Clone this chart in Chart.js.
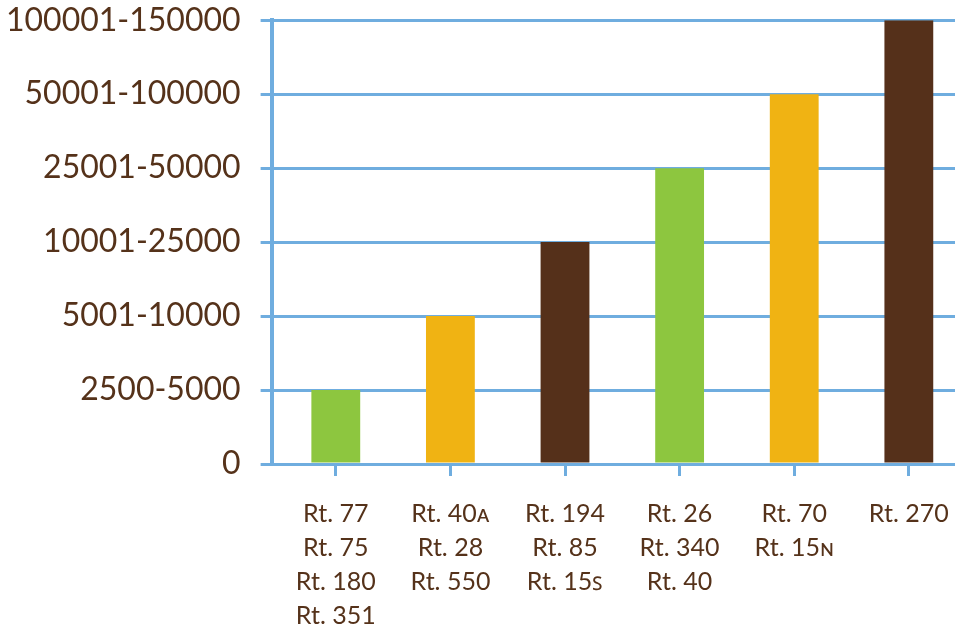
<!DOCTYPE html>
<html lang="en">
<head>
  <meta charset="UTF-8">
  <title>Traffic by route</title>
  <script src="https://cdn.jsdelivr.net/npm/chart.js"></script>
  <style>
    html, body {
      margin: 0;
      padding: 0;
      background: #fff;
      overflow: hidden;
    }

    /* pulled up/left to drop the extra edge padding Chart.js adds */
    .chart-box {
      position: relative;
      left: -19px;
      top: -19px;
      width: 989px;
      height: 673px;
    }
  </style>
</head>
<body>
  <div class="chart-box">
    <canvas id="trafficChart"></canvas>
  </div>

  <script>
    // Route groups along the x axis (one entry per bar, one line per route)
    const routeGroups = [
      ['Rt. 77', 'Rt. 75', 'Rt. 180', 'Rt. 351'],
      ['Rt. 40ᴀ', 'Rt. 28', 'Rt. 550'],
      ['Rt. 194', 'Rt. 85', 'Rt. 15ꜱ'],
      ['Rt. 26', 'Rt. 340', 'Rt. 40'],
      ['Rt. 70', 'Rt. 15ɴ'],
      ['Rt. 270']
    ];

    // Traffic band reached by each group (index into bandLabels)
    const bandLevels = [1, 2, 3, 4, 5, 6];

    // Y axis tick labels, bottom to top
    const bandLabels = ['0', '2500-5000', '5001-10000', '10001-25000', '25001-50000', '50001-100000', '100001-150000'];

    const barColors = ['#8DC63F', '#F0B313', '#55301A', '#8DC63F', '#F0B313', '#55301A'];

    const blue = '#6FADDF';
    const textColor = '#55321A';

    const ctx = document.getElementById('trafficChart').getContext('2d');
    new Chart(ctx, {
      type: 'bar',
      data: {
        datasets: [{
          data: bandLevels.map((v, i) => ({ x: i, y: v })),
          backgroundColor: barColors,
          borderWidth: 0,
          barPercentage: 0.426,
          categoryPercentage: 1
        }]
      },
      options: {
        responsive: true,
        maintainAspectRatio: false,
        animation: false,
        layout: { padding: { left: 5, right: 2, top: 1, bottom: 0 } },
        plugins: {
          legend: { display: false },
          tooltip: { enabled: false }
        },
        scales: {
          x: {
            type: 'linear',
            offset: false,
            min: -0.56,
            max: 5.5,
            // one tick per route group, at the bar centres
            afterBuildTicks: scale => {
              scale.ticks = routeGroups.map((g, i) => ({ value: i }));
            },
            grid: {
              offset: false,
              drawOnChartArea: false,
              color: blue,
              lineWidth: 3,
              tickLength: 12
            },
            border: { color: blue, width: 3 },
            ticks: {
              autoSkip: false,
              maxRotation: 0,
              padding: 21,
              color: textColor,
              font: { family: 'Lato', size: 25, lineHeight: '34px' },
              callback: value => routeGroups[value] || ''
            }
          },
          y: {
            min: 0,
            max: 6,
            grid: {
              color: blue,
              lineWidth: 3,
              tickLength: 11
            },
            border: { color: blue, width: 4 },
            ticks: {
              stepSize: 1,
              padding: 20,
              color: textColor,
              font: { family: 'Lato', size: 32 },
              callback: value => bandLabels[value]
            }
          }
        }
      }
    });
  </script>
</body>
</html>
